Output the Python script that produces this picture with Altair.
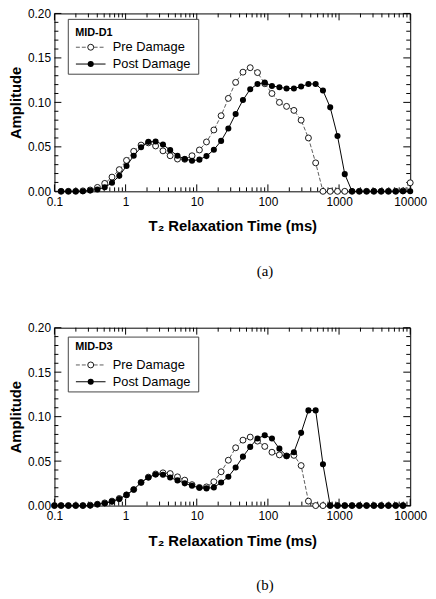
import altair as alt
import pandas as pd

# ---------------- data ----------------
T2_A = [0.124, 0.157, 0.199, 0.251, 0.318, 0.402, 0.509, 0.644, 0.815, 1.03,
        1.30, 1.65, 2.09, 2.64, 3.35, 4.23, 5.36, 6.78, 8.58, 10.9,
        13.7, 17.4, 22.0, 27.8, 35.2, 44.6, 56.4, 71.4, 90.3, 114,
        145, 183, 232, 293, 371, 469, 594, 751, 951, 1203,
        1522, 1927, 2438, 3085, 3904, 4941, 6253, 7913, 10000]
PRE_A = [0, 0, 0, 0.0005, 0.0015, 0.0044, 0.0089, 0.016, 0.0244, 0.0348,
         0.045, 0.052, 0.0545, 0.051, 0.0455, 0.040, 0.0363, 0.036, 0.040, 0.0465,
         0.0555, 0.069, 0.085, 0.1045, 0.1225, 0.134, 0.139, 0.1335, 0.121, 0.110,
         0.100, 0.0955, 0.091, 0.080, 0.060, 0.032, 0, 0, 0, 0,
         0, 0, 0, 0, 0, 0, 0, 0.0005, 0.0096]
POST_A = [0, 0, 0, 0, 0.001, 0.002, 0.0045, 0.0096, 0.0174, 0.0285,
          0.040, 0.0496, 0.0556, 0.056, 0.0526, 0.0463, 0.040, 0.0363, 0.0344, 0.0356,
          0.0396, 0.0467, 0.0567, 0.0707, 0.087, 0.1026, 0.1148, 0.1207, 0.1222, 0.1185,
          0.117, 0.1156, 0.1156, 0.1178, 0.1207, 0.1207, 0.1133, 0.0944, 0.0622, 0.0193,
          0, 0, 0, 0, 0, 0, 0, 0, 0]

T2_B = [0.1, 0.124, 0.157, 0.199, 0.251, 0.318, 0.402, 0.509, 0.644, 0.815,
        1.03, 1.30, 1.65, 2.09, 2.64, 3.35, 4.23, 5.36, 6.78, 8.58,
        10.9, 13.7, 17.4, 22.0, 27.8, 35.2, 44.6, 56.4, 71.4, 90.3,
        114, 145, 183, 232, 293, 371, 469, 594, 751, 951,
        1203, 1522, 1927, 2438, 3085, 3904, 4941, 6253, 7913]
PRE_B = [0, 0, 0, 0, 0, 0.0005, 0.0015, 0.003, 0.005, 0.008,
         0.012, 0.018, 0.026, 0.032, 0.0355, 0.0368, 0.036, 0.0323, 0.0286, 0.0235,
         0.0204, 0.021, 0.0268, 0.038, 0.051, 0.065, 0.0736, 0.077, 0.0725, 0.0665,
         0.060, 0.057, 0.0558, 0.0565, 0.045, 0.005, 0, 0, 0, 0,
         0, 0, 0, 0, 0, 0, 0, 0, 0]
POST_B = [0, 0, 0, 0, 0, 0, 0.0015, 0.0026, 0.0045, 0.0074,
          0.012, 0.018, 0.026, 0.0316, 0.035, 0.0346, 0.0316, 0.0283, 0.025, 0.0223,
          0.020, 0.0193, 0.0204, 0.026, 0.0325, 0.0428, 0.055, 0.066, 0.0755, 0.079,
          0.0755, 0.064, 0.0558, 0.060, 0.0818, 0.107, 0.107, 0.0465, 0, 0,
          0, 0, 0, 0, 0, 0, 0, 0, 0]

Y_MAJOR = [0.0, 0.05, 0.10, 0.15, 0.20]
Y_MINOR = [0.01, 0.02, 0.03, 0.04, 0.06, 0.07, 0.08, 0.09,
           0.11, 0.12, 0.13, 0.14, 0.16, 0.17, 0.18, 0.19]
X_MAJOR = [0.1, 1, 10, 100, 1000, 10000]
X_MINOR = [m * 10 ** e for e in range(-1, 4) for m in range(2, 10)]

SERIES = ["Pre Damage", "Post Damage"]
W, H = 360, 180
FONT = "Liberation Sans"

XS = alt.Scale(type="log", domain=[0.1, 10000])
YS = alt.Scale(domain=[0, 0.2])
XAXIS = alt.Axis(values=X_MAJOR, labelExpr="format(datum.value, '~g')",
                 title="T\u2082 Relaxation Time (ms)", ticks=False,
                 domain=False, grid=False, labelFlush=False, labelOverlap=False,
                 labelPadding=5, titlePadding=12)
YAXIS = alt.Axis(values=Y_MAJOR, format=".2f", title="Amplitude", ticks=False,
                 domain=False, grid=False, labelPadding=4, titlePadding=4)


def X(f):
    return alt.X(f, scale=XS, axis=XAXIS)


def Y(f):
    return alt.Y(f, scale=YS, axis=YAXIS)


def panel(t2, pre, post, name, tag, ldy):
    df = pd.DataFrame({"t2": t2, "pre": pre, "post": post})
    base = alt.Chart(df)
    pre_line = base.mark_line(color="#333333", strokeWidth=0.8, strokeDash=[4, 2]).encode(
        x=X("t2:Q"), y=Y("pre:Q"))
    pre_pts = base.mark_point(shape="circle", fill="white", fillOpacity=1, stroke="black",
                              strokeWidth=0.9, size=36, opacity=1).encode(
        x=X("t2:Q"), y=Y("pre:Q"))
    post_line = base.mark_line(color="black", strokeWidth=1).encode(
        x=X("t2:Q"), y=Y("post:Q"))
    post_pts = base.mark_point(shape="circle", filled=True, color="black", size=38,
                               opacity=1).encode(x=X("t2:Q"), y=Y("post:Q"))

    def yticks(vals, ln):
        d = alt.Chart(pd.DataFrame({"v": vals}))
        left = d.mark_rule(color="black", strokeWidth=1).encode(
            y=Y("v:Q"), x=alt.value(0), x2=alt.value(ln))
        right = d.mark_rule(color="black", strokeWidth=1).encode(
            y=Y("v:Q"), x=alt.value(W), x2=alt.value(W - ln))
        return [left, right]

    def xticks(vals, ln):
        d = alt.Chart(pd.DataFrame({"v": vals}))
        bot = d.mark_rule(color="black", strokeWidth=1).encode(
            x=X("v:Q"), y=alt.value(H), y2=alt.value(H - ln))
        top = d.mark_rule(color="black", strokeWidth=1).encode(
            x=X("v:Q"), y=alt.value(0), y2=alt.value(ln))
        return [bot, top]

    one = alt.Chart(pd.DataFrame({"a": [0]}))
    box = one.mark_rect(fill="white", stroke="#444444", strokeWidth=1).encode(
        x=alt.value(14), x2=alt.value(146), y=alt.value(6 + ldy), y2=alt.value(61.5 + ldy))
    ttl = one.mark_text(align="left", baseline="middle", font=FONT, fontSize=11,
                        fontWeight="bold", color="black").encode(
        x=alt.value(21), y=alt.value(20), text=alt.value(name))
    r1, r2 = 34.2 + ldy, 51.2 + ldy
    l1 = one.mark_rule(color="#333333", strokeWidth=0.8, strokeDash=[4, 2]).encode(
        x=alt.value(21.7), x2=alt.value(51.7), y=alt.value(r1))
    p1 = one.mark_point(shape="circle", fill="white", fillOpacity=1, stroke="black",
                        strokeWidth=0.9, size=36, opacity=1).encode(
        x=alt.value(36.7), y=alt.value(r1))
    t1 = one.mark_text(align="left", baseline="middle", font=FONT, fontSize=13,
                       color="black").encode(x=alt.value(59), y=alt.value(r1),
                                             text=alt.value(SERIES[0]))
    l2 = one.mark_rule(color="black", strokeWidth=1).encode(
        x=alt.value(21.7), x2=alt.value(51.7), y=alt.value(r2))
    p2 = one.mark_point(shape="circle", filled=True, color="black", size=38,
                        opacity=1).encode(x=alt.value(36.7), y=alt.value(r2))
    t2t = one.mark_text(align="left", baseline="middle", font=FONT, fontSize=13,
                        color="black").encode(x=alt.value(59), y=alt.value(r2),
                                              text=alt.value(SERIES[1]))
    cap = one.mark_text(align="center", baseline="middle", font="Liberation Serif",
                        fontSize=15, color="black").encode(
        x=alt.value(213), y=alt.value(260.5), text=alt.value(tag))

    layers = ([pre_line] + yticks(Y_MAJOR, 7) + yticks(Y_MINOR, 4) + xticks(X_MAJOR, 7)
              + xticks(X_MINOR, 4) + [pre_pts, post_line, post_pts,
                                      box, ttl, l1, p1, t1, l2, p2, t2t, cap])
    return alt.layer(*layers).properties(width=W, height=H)


pa = panel(T2_A, PRE_A, POST_A, "MID-D1", "(a)", 0)
pb = panel(T2_B, PRE_B, POST_B, "MID-D3", "(b)", 3.5)

chart = alt.vconcat(pa, pb, spacing=138, bounds="flush").properties(
    padding={"left": 0, "top": -5, "right": 0, "bottom": 0}
).configure_view(stroke="black", strokeWidth=1).configure_axis(
    labelFont=FONT, titleFont=FONT, labelFontSize=12, titleFontSize=15,
    labelColor="black", titleColor="black", titleFontWeight="bold")

chart.save("out.html", embed_options={"renderer": "svg", "actions": False})
